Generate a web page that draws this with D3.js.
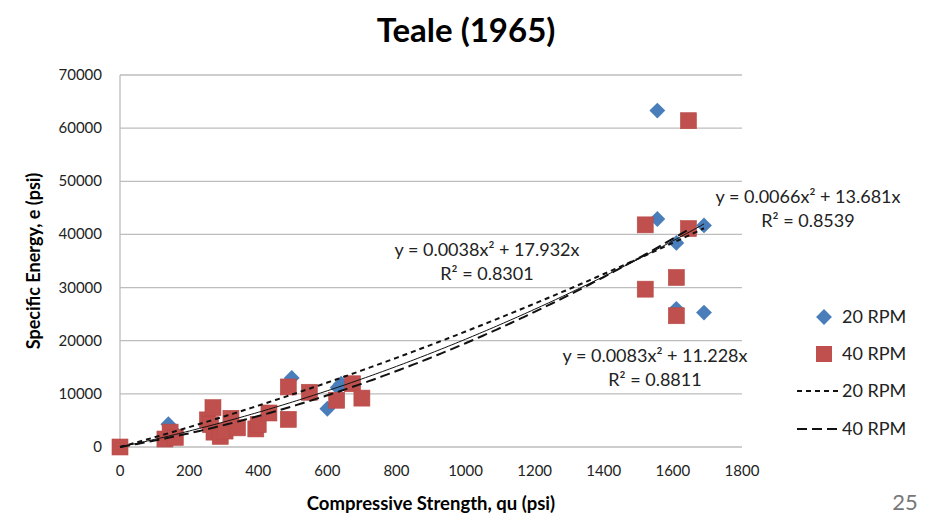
<!DOCTYPE html>
<html>
<head>
<meta charset="utf-8">
<script src="https://cdn.jsdelivr.net/npm/d3@7"></script>
<style>
  body { margin: 0; background: #fff; }
  text { font-family: Lato, "Open Sans", sans-serif; }
</style>
</head>
<body>
<div class="chart"></div>
<script>
// data
var rpm20 = [[0,0],[140,4300],[150,3300],[497,13000],[600,7200],[630,11200],[640,11900],
  [1555,63300],[1555,42900],[1610,38400],[1610,26000],[1690,41700],[1690,25300]];
var rpm40 = [[0,0],[130,1500],[145,2800],[160,1800],[253,5100],[262,4200],[269,7400],[272,2800],
  [290,2000],[304,3000],[321,5400],[340,3600],[393,3400],[400,4200],[431,6400],[487,11300],[487,5200],
  [548,10300],[627,8800],[673,11900],[700,9200],[1520,41800],[1520,29700],[1610,31900],[1610,24700],
  [1645,61400],[1645,41100]];
// polynomial trendlines (through the origin) as printed on the chart
var fitNames = ["20 RPM", "40 RPM", "all"];
var fitA = [0.0038, 0.0083, 0.0066];
var fitB = [17.932, 11.228, 13.681];
var fitMax = [1690, 1645, 1690];
var fitEq = ["y = 0.0038x\u00b2 + 17.932x", "y = 0.0083x\u00b2 + 11.228x", "y = 0.0066x\u00b2 + 13.681x"];
var fitR2 = ["R\u00b2 = 0.8301", "R\u00b2 = 0.8811", "R\u00b2 = 0.8539"];
var xTicks = d3.range(0, 1801, 200);
var yTicks = d3.range(0, 70001, 10000);

var W = 943, H = 518;
var m = {left: 120, right: 742, top: 75, bottom: 447};

var x = d3.scaleLinear().domain([0, 1800]).range([m.left, m.right]);
var y = d3.scaleLinear().domain([0, 70000]).range([m.bottom, m.top]);

var svg = d3.select(".chart").append("svg").attr("width", W).attr("height", H);

svg.append("text").attr("x", 466).attr("y", 42).attr("text-anchor", "middle")
  .style("font-size", "33px").style("font-weight", "bold").text("Teale (1965)");

// grid
svg.append("g").selectAll("line").data(yTicks).enter().append("line")
  .attr("x1", m.left).attr("x2", m.right)
  .attr("y1", function(d){ return y(d); }).attr("y2", function(d){ return y(d); })
  .attr("stroke", "#bdbdbd").attr("stroke-width", 1.3);
svg.append("line").attr("x1", m.left).attr("x2", m.left).attr("y1", m.top).attr("y2", m.bottom)
  .attr("stroke", "#bdbdbd").attr("stroke-width", 1.3);

// tick labels
svg.append("g").selectAll("text").data(yTicks).enter().append("text")
  .attr("x", 102).attr("y", function(d){ return y(d) + 5; }).attr("text-anchor", "end")
  .style("font-size", "15px").attr("fill", "#222").text(function(d){ return d; });
svg.append("g").selectAll("text").data(xTicks).enter().append("text")
  .attr("x", function(d){ return x(d); }).attr("y", 476).attr("text-anchor", "middle")
  .style("font-size", "15px").attr("fill", "#222").text(function(d){ return d; });

svg.append("text").attr("x", 431).attr("y", 510).attr("text-anchor", "middle")
  .style("font-size", "18.5px").style("font-weight", "bold").text("Compressive Strength, qu (psi)");
svg.append("text").attr("transform", "translate(40,261) rotate(-90)").attr("text-anchor", "middle")
  .style("font-size", "18px").style("font-weight", "bold").text("Specific Energy, e (psi)");

// markers
var diamond = d3.symbol().type(d3.symbolDiamond2).size(160);
svg.append("g").selectAll("path").data(rpm20).enter().append("path")
  .attr("d", diamond)
  .attr("transform", function(d){ return "translate(" + x(d[0]) + "," + y(d[1]) + ")"; })
  .attr("fill", "#4a7ebb");
svg.append("g").selectAll("rect").data(rpm40).enter().append("rect")
  .attr("x", function(d){ return x(d[0]) - 8; }).attr("y", function(d){ return y(d[1]) - 8; })
  .attr("width", 16).attr("height", 16)
  .attr("fill", "#c0504d").attr("stroke", "#b84a47").attr("stroke-width", 0.6);

// trendlines
var dashes = ["5,4", "10,5", null];
var widths = [2, 2, 1];
var line = d3.line().x(function(d){ return x(d[0]); }).y(function(d){ return y(d[1]); });
fitNames.forEach(function(name, i){
  var pts = d3.range(0, fitMax[i] + 1, 10).map(function(v){ return [v, fitA[i]*v*v + fitB[i]*v]; });
  svg.append("path").datum(pts).attr("d", line)
    .attr("fill", "none").attr("stroke", "#111").attr("stroke-width", widths[i])
    .attr("stroke-dasharray", dashes[i]);
});

// equation labels
var eqPos = [[487, 256], [655, 362], [808, 203]];
fitNames.forEach(function(name, i){
  svg.append("text").attr("x", eqPos[i][0]).attr("y", eqPos[i][1]).attr("text-anchor", "middle")
    .style("font-size", "18px").attr("fill", "#222").text(fitEq[i]);
  svg.append("text").attr("x", eqPos[i][0]).attr("y", eqPos[i][1] + 24).attr("text-anchor", "middle")
    .style("font-size", "18px").attr("fill", "#222").text(fitR2[i]);
});

// legend
var lg = svg.append("g");
var legY = [317, 354, 391, 429];
var legText = ["20 RPM", "40 RPM", "20 RPM", "40 RPM"];
lg.append("path").attr("d", diamond).attr("transform", "translate(824," + legY[0] + ")").attr("fill", "#4a7ebb");
lg.append("rect").attr("x", 816).attr("y", legY[1] - 8).attr("width", 16).attr("height", 16).attr("fill", "#c0504d");
lg.append("line").attr("x1", 797).attr("x2", 838).attr("y1", legY[2]).attr("y2", legY[2])
  .attr("stroke", "#111").attr("stroke-width", 2).attr("stroke-dasharray", "5,4");
lg.append("line").attr("x1", 797).attr("x2", 840).attr("y1", legY[3]).attr("y2", legY[3])
  .attr("stroke", "#111").attr("stroke-width", 2).attr("stroke-dasharray", "10,5");
lg.selectAll("text").data(legText).enter().append("text")
  .attr("x", 842).attr("y", function(d, i){ return legY[i] + 6; })
  .style("font-size", "18px").attr("fill", "#222").text(function(d){ return d; });

svg.append("text").attr("x", 905).attr("y", 510).attr("text-anchor", "middle")
  .style("font-size", "22px").attr("fill", "#777").text("25");
</script>
</body>
</html>
